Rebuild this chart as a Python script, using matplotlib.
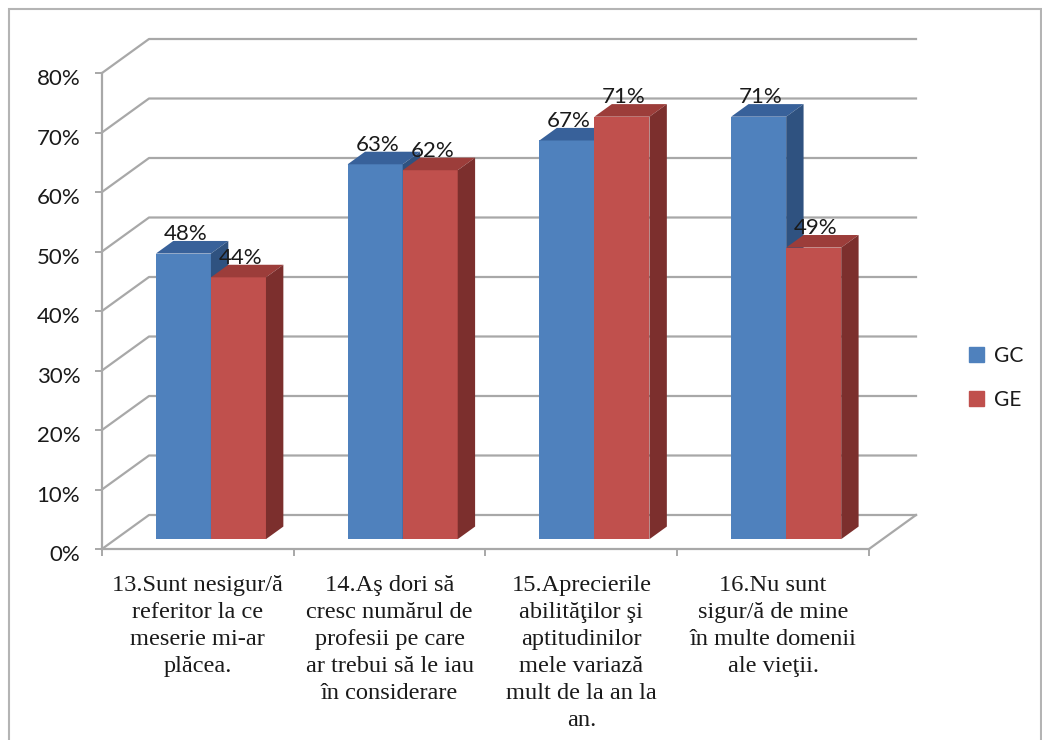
"""
Grouped pseudo-3D bar chart of questionnaire answers for the GC and GE groups.
"""

import matplotlib

matplotlib.use("Agg")

import matplotlib.pyplot as plt
from matplotlib.patches import Patch, Polygon, Rectangle
from matplotlib.transforms import ScaledTranslation

categories = [
    "13.Sunt nesigur/ă\nreferitor la ce\nmeserie mi-ar\nplăcea.",
    "14.Aş dori să\ncresc numărul de\nprofesii pe care\nar trebui să le iau\nîn considerare",
    "15.Aprecierile\nabilităţilor şi\naptitudinilor\nmele variază\nmult de la an la\nan.",
    "16.Nu sunt\nsigur/ă de mine\nîn multe domenii\nale vieţii.",
]
gc_values = [48, 63, 67, 71]
ge_values = [44, 62, 71, 49]
y_ticks = [0, 10, 20, 30, 40, 50, 60, 70, 80]

WIDTH, HEIGHT = 1042, 740
GRID = "#a8a8a8"
GC_COLORS = ("#4f81bd", "#38619a", "#2f5280")
GE_COLORS = ("#c0504d", "#9c3d3a", "#7c2f2d")

# shift of the back wall relative to the front plane, in data units
DEPTH_X = 47 / 191.75
DEPTH_Y = 34 / 5.95
BAR_WIDTH = 0.287
BAR_START = 0.21
NEAR, FAR = 0.29, 0.66


def project(x, y, depth):
    """
    Move a floor point backwards by a fraction of the chart depth.
    """

    return x + depth * DEPTH_X, y + depth * DEPTH_Y


def draw_bar(ax, left, value, colors):
    """
    Draw the front, top and side faces of one bar.
    """

    right = left + BAR_WIDTH
    front_x, base = project(left, 0, NEAR)
    top = base + value
    ax.bar(front_x, value, BAR_WIDTH, bottom=base, align="edge", color=colors[0], linewidth=0, zorder=3, clip_on=False)
    ax.add_patch(
        Polygon(
            [project(left, value, NEAR), project(right, value, NEAR), project(right, value, FAR), project(left, value, FAR)],
            facecolor=colors[1],
            linewidth=0,
            zorder=3,
            clip_on=False,
        )
    )
    ax.add_patch(
        Polygon(
            [project(right, 0, NEAR), project(right, value, NEAR), project(right, value, FAR), project(right, 0, FAR)],
            facecolor=colors[2],
            linewidth=0,
            zorder=3,
            clip_on=False,
        )
    )
    ax.annotate(
        f"{value}%",
        (front_x + BAR_WIDTH / 2, top),
        xytext=(1.5, 14),
        textcoords="offset points",
        ha="center",
        va="center",
        fontsize=16,
        color="#1a1a1a",
        zorder=5,
    )


plt.rcParams["font.family"] = ["Lato", "DejaVu Sans"]

fig = plt.figure(figsize=(WIDTH / 100, HEIGHT / 100), dpi=100, facecolor="white")
ax = fig.add_axes([102 / WIDTH, 1 - 549 / HEIGHT, 767 / WIDTH, 476 / HEIGHT])
ax.set_xlim(0, len(categories))
ax.set_ylim(0, y_ticks[-1])
ax.patch.set_visible(False)

fig.add_artist(
    Rectangle(
        (9 / WIDTH, -0.02),
        1032 / WIDTH,
        1.02 - 9 / HEIGHT,
        transform=fig.transFigure,
        facecolor="none",
        edgecolor="#b4b4b4",
        linewidth=1.5,
    )
)

# back wall grid with its diagonal returns to the value axis
for level in y_ticks:
    back_left = project(0, level, 1)
    back_right = project(len(categories), level, 1)
    ax.plot([0, back_left[0], back_right[0]], [level, back_left[1], back_right[1]], color=GRID, lw=1.6, zorder=1, clip_on=False)
floor_end = project(len(categories), 0, 1)
ax.plot([len(categories), floor_end[0]], [0, floor_end[1]], color=GRID, lw=1.6, zorder=1, clip_on=False)

for i in range(len(categories)):
    draw_bar(ax, i + BAR_START, gc_values[i], GC_COLORS)
    draw_bar(ax, i + BAR_START + BAR_WIDTH, ge_values[i], GE_COLORS)

for side in ("top", "right"):
    ax.spines[side].set_visible(False)
for side in ("left", "bottom"):
    ax.spines[side].set_color(GRID)
    ax.spines[side].set_linewidth(1.6)

ax.set_yticks(y_ticks)
ax.set_yticklabels([f"{v}%" for v in y_ticks], fontsize=16, color="#1a1a1a")
ax.tick_params(axis="y", length=5, width=1.4, color=GRID, pad=10.7)

# value labels sit a little below their tick marks
label_shift = ScaledTranslation(0, -3 / 72, fig.dpi_scale_trans)
for label in ax.get_yticklabels():
    label.set_transform(label.get_transform() + label_shift)

ax.set_xticks(range(len(categories) + 1))
ax.set_xticklabels([])
ax.set_xticks([i + 0.5 for i in range(len(categories))], minor=True)
ax.set_xticklabels(categories, minor=True, family="Liberation Serif", fontsize=17.6, linespacing=1.37, color="#1a1a1a", va="top")
ax.tick_params(axis="x", which="major", length=5, width=1.4, color=GRID)
ax.tick_params(axis="x", which="minor", length=0, pad=19)

fig.legend(
    handles=[Patch(color=GC_COLORS[0], label="GC"), Patch(color=GE_COLORS[0], label="GE")],
    loc="center left",
    bbox_to_anchor=(969 / WIDTH, 1 - 378 / HEIGHT),
    frameon=False,
    fontsize=15,
    handlelength=0.72,
    handleheight=0.72,
    handletextpad=0.48,
    labelspacing=1.15,
    borderpad=0,
    borderaxespad=0,
    labelcolor="#1a1a1a",
)

fig.savefig("out.png", dpi=100)
plt.close(fig)
